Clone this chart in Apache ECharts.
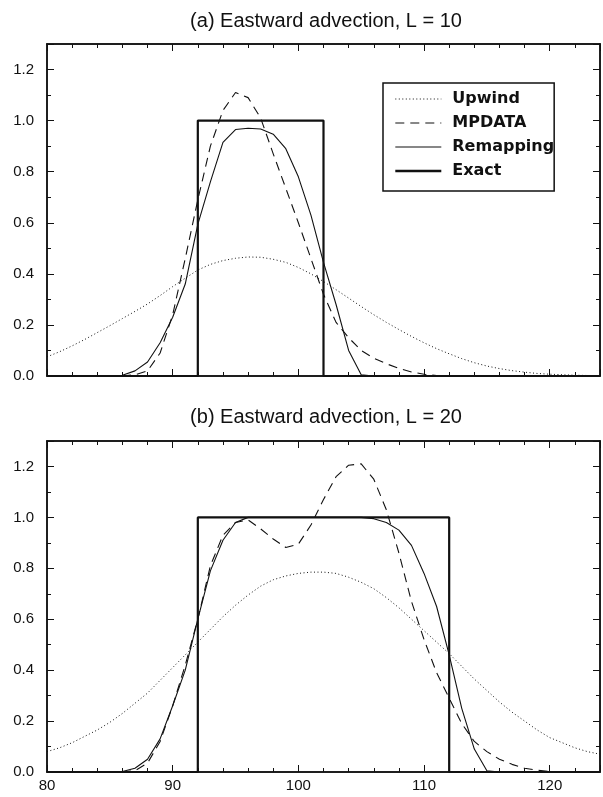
<!DOCTYPE html>
<html>
<head>
<meta charset="utf-8">
<script src="https://cdn.jsdelivr.net/npm/echarts@6/dist/echarts.min.js"></script>
<style>
  html, body { margin: 0; padding: 0; background: #fff; }
  #main { width: 603px; height: 797px; }
</style>
</head>
<body>
<div id="main"></div>
<script>
"use strict";

// x positions (longitude) shared by all curves
var xPos = [80, 81, 82, 83, 84, 85, 86, 87, 88, 89, 90, 91, 92, 93, 94, 95, 96, 97, 98, 99,
    100, 101, 102, 103, 104, 105, 106, 107, 108, 109, 110, 111, 112, 113, 114, 115, 116, 117, 118, 119,
    120, 121, 122, 123, 124];

// (a) L = 10
var upwindA = [0.075, 0.095, 0.118, 0.143, 0.17, 0.197, 0.225, 0.253, 0.282, 0.315, 0.35, 0.383, 0.415, 0.437, 0.452, 0.461, 0.466, 0.465, 0.457, 0.445,
    0.425, 0.4, 0.37, 0.338, 0.305, 0.272, 0.24, 0.21, 0.182, 0.155, 0.13, 0.107, 0.087, 0.068, 0.052, 0.039, 0.029, 0.021, 0.015, 0.01,
    0.007, 0.005, 0.003, 0.002, 0.001];
var mpdataA = [0, 0, 0, 0, 0, 0, 0, 0.005, 0.02, 0.09, 0.24, 0.46, 0.69, 0.90, 1.04, 1.11, 1.09, 1.01, 0.87, 0.735,
    0.6, 0.46, 0.32, 0.21, 0.15, 0.10, 0.07, 0.048, 0.03, 0.016, 0.007, 0.002, 0, 0, 0, 0, 0, 0, 0, 0,
    0, 0, 0, 0, 0];
var remapA = [0, 0, 0, 0, 0, 0, 0.003, 0.02, 0.055, 0.13, 0.23, 0.36, 0.594, 0.76, 0.915, 0.965, 0.97, 0.967, 0.947, 0.89,
    0.78, 0.63, 0.445, 0.28, 0.1, 0.005, 0, 0, 0, 0, 0, 0, 0, 0, 0, 0, 0, 0, 0, 0,
    0, 0, 0, 0, 0];
var exactA = [[80, 0], [92, 0], [92, 1], [102, 1], [102, 0], [124, 0]];

// (b) L = 20
var upwindB = [0.08, 0.095, 0.115, 0.14, 0.165, 0.195, 0.23, 0.27, 0.31, 0.36, 0.41, 0.46, 0.51, 0.56, 0.61, 0.655, 0.695, 0.73, 0.755, 0.77,
    0.78, 0.785, 0.785, 0.78, 0.765, 0.745, 0.72, 0.685, 0.645, 0.6, 0.555, 0.51, 0.465, 0.415, 0.365, 0.32, 0.275, 0.235, 0.2, 0.165,
    0.135, 0.115, 0.095, 0.08, 0.07];
var mpdataB = [0, 0, 0, 0, 0, 0, 0, 0.005, 0.035, 0.12, 0.26, 0.42, 0.60, 0.81, 0.93, 0.98, 0.99, 0.955, 0.915, 0.882,
    0.895, 0.97, 1.07, 1.16, 1.205, 1.21, 1.15, 1.03, 0.86, 0.67, 0.52, 0.39, 0.29, 0.19, 0.12, 0.08, 0.05, 0.03, 0.015, 0.007,
    0.002, 0, 0, 0, 0];
var remapB = [0, 0, 0, 0, 0, 0, 0.002, 0.015, 0.05, 0.13, 0.26, 0.40, 0.60, 0.79, 0.91, 0.98, 1.0, 1.0, 1.0, 1.0,
    1.0, 1.0, 1.0, 1.0, 1.0, 1.0, 0.995, 0.98, 0.95, 0.89, 0.78, 0.65, 0.46, 0.25, 0.09, 0.005, 0, 0, 0, 0,
    0, 0, 0, 0, 0];
var exactB = [[80, 0], [92, 0], [92, 1], [112, 1], [112, 0], [124, 0]];

var panelTitles = ['(a) Eastward advection, L = 10', '(b) Eastward advection, L = 20'];
var seriesNames = ['Upwind', 'MPDATA', 'Remapping', 'Exact'];

var INK = '#111';

function pairs(vals) {
    return xPos.map(function (x, i) { return [x, vals[i]]; });
}

// 4 x axes and 4 y axes per grid: major/minor ticks on all four sides
function makeXAxes(g, showLabels) {
    var axes = [];
    ['bottom', 'top'].forEach(function (pos) {
        [10, 2].forEach(function (step) {
            axes.push({
                type: 'value', gridIndex: g, position: pos,
                min: 80, max: 124, interval: step,
                axisLine: { show: true, onZero: false, lineStyle: { color: INK, width: 1.5 } },
                axisTick: { show: true, inside: true, length: step === 10 ? 7 : 4, lineStyle: { color: INK, width: 1 } },
                axisLabel: {
                    show: showLabels && pos === 'bottom' && step === 10,
                    color: INK, fontSize: 15, fontFamily: 'Liberation Sans', margin: 6,
                    formatter: function (v) { return v % 10 === 0 ? String(v) : ''; }
                },
                splitLine: { show: false }
            });
        });
    });
    return axes;
}

function makeYAxes(g) {
    var axes = [];
    ['left', 'right'].forEach(function (pos) {
        [0.2, 0.1].forEach(function (step) {
            axes.push({
                type: 'value', gridIndex: g, position: pos,
                min: 0, max: 1.3, interval: step,
                axisLine: { show: true, onZero: false, lineStyle: { color: INK, width: 1.5 } },
                axisTick: { show: true, inside: true, length: step === 0.2 ? 7 : 4, lineStyle: { color: INK, width: 1 } },
                axisLabel: {
                    show: pos === 'left' && step === 0.2,
                    color: INK, fontSize: 15, fontFamily: 'Liberation Sans', margin: 13,
                    formatter: function (v) {
                        var k = Math.round(v * 10);
                        return k % 2 === 0 && k <= 12 ? (k / 10).toFixed(1) : '';
                    }
                },
                splitLine: { show: false }
            });
        });
    });
    return axes;
}

function makeSeries(g, up, mp, rm, ex) {
    var xi = g * 4, yi = g * 4;
    var base = { type: 'line', xAxisIndex: xi, yAxisIndex: yi, showSymbol: false, symbol: 'none', animation: false, silent: true };
    return [
        Object.assign({}, base, { name: 'Upwind', data: pairs(up), lineStyle: { color: INK, width: 1, type: [1, 2.5] }, itemStyle: { color: INK } }),
        Object.assign({}, base, { name: 'MPDATA', data: pairs(mp), lineStyle: { color: INK, width: 1.1, type: [9, 6] }, itemStyle: { color: INK } }),
        Object.assign({}, base, { name: 'Remapping', data: pairs(rm), lineStyle: { color: INK, width: 1.1 }, itemStyle: { color: INK } }),
        Object.assign({}, base, { name: 'Exact', data: ex, lineStyle: { color: INK, width: 2.2 }, itemStyle: { color: INK } })
    ];
}

var chart = echarts.init(document.getElementById('main'), null, { renderer: 'canvas' });

var option = {
    animation: false,
    backgroundColor: '#fff',
    title: [
        { text: panelTitles[0], left: 326, top: 11, padding: 0, textAlign: 'center',
          textStyle: { fontFamily: 'Liberation Sans', fontSize: 20, fontWeight: 'normal', color: INK } },
        { text: panelTitles[1], left: 326, top: 407, padding: 0, textAlign: 'center',
          textStyle: { fontFamily: 'Liberation Sans', fontSize: 20, fontWeight: 'normal', color: INK } }
    ],
    legend: {
        data: [
            { name: seriesNames[0], lineStyle: { color: INK, width: 1, type: [1, 2.5] } },
            { name: seriesNames[1], lineStyle: { color: INK, width: 1.1, type: [9, 6] } },
            { name: seriesNames[2], lineStyle: { color: INK, width: 1.1 } },
            { name: seriesNames[3], lineStyle: { color: INK, width: 2.6 } }
        ],
        orient: 'vertical',
        left: 383, top: 83,
        padding: [8, 0, 12, 11],
        itemWidth: 46, itemHeight: 12, itemGap: 8,
        borderColor: INK, borderWidth: 1.5,
        selectedMode: false,
        itemStyle: { opacity: 0, borderWidth: 0 },
        textStyle: { fontFamily: 'DejaVu Sans', fontWeight: 'bold', fontSize: 16, color: INK, padding: [0, 0, 0, 6] }
    },
    grid: [
        { left: 47, top: 44, right: 3, height: 332 },
        { left: 47, top: 441, right: 3, height: 331 }
    ],
    xAxis: makeXAxes(0, false).concat(makeXAxes(1, true)),
    yAxis: makeYAxes(0).concat(makeYAxes(1)),
    series: makeSeries(0, upwindA, mpdataA, remapA, exactA).concat(makeSeries(1, upwindB, mpdataB, remapB, exactB))
};

chart.setOption(option);
</script>
</body>
</html>
